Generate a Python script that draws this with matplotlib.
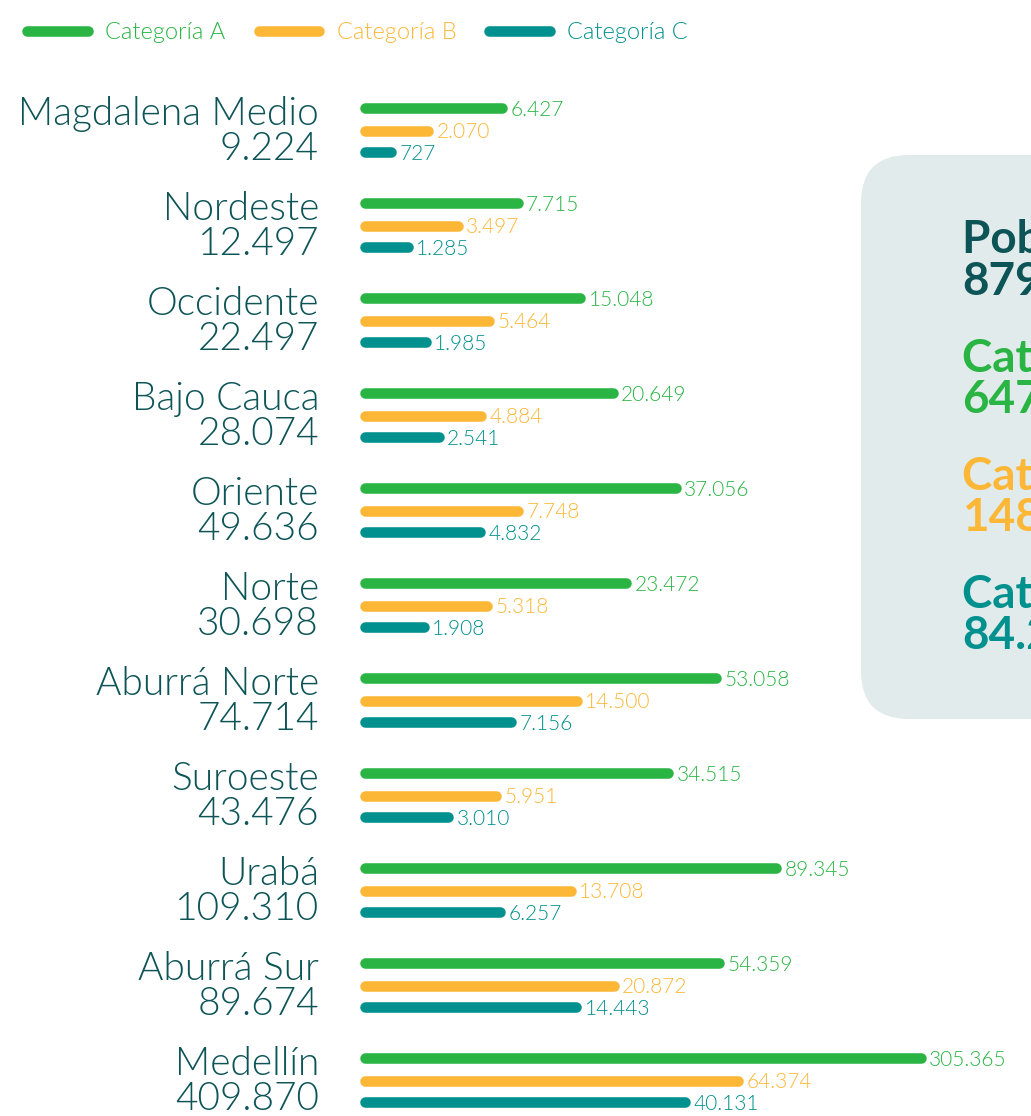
import numpy as np
import matplotlib
matplotlib.use("Agg")
import matplotlib.pyplot as plt
import matplotlib.transforms as mtransforms
from matplotlib.lines import Line2D
from matplotlib.patches import FancyBboxPatch

# data
regions = ["Magdalena Medio", "Nordeste", "Occidente", "Bajo Cauca", "Oriente", "Norte",
           "Aburrá Norte", "Suroeste", "Urabá", "Aburrá Sur", "Medellín"]
cat_a = [6427, 7715, 15048, 20649, 37056, 23472, 53058, 34515, 89345, 54359, 305365]
cat_b = [2070, 3497, 5464, 4884, 7748, 5318, 14500, 5951, 13708, 20872, 64374]
cat_c = [727, 1285, 1985, 2541, 4832, 1908, 7156, 3010, 6257, 14443, 40131]
series_names = ["Categoría A", "Categoría B", "Categoría C"]
panel_title = "Población total"

GREEN = "#29B443"
ORANGE = "#FDB736"
TEAL = "#00908D"
DARK = "#0D5457"
PANEL = "#E1EBEB"
colors = [GREEN, ORANGE, TEAL]

plt.rcParams["font.family"] = ["Lato", "DejaVu Sans"]
LIGHT = 300


def fmt(v):
    return f"{v:,}".replace(",", ".")


# compressed scale for bar lengths
S = 3000.0


def fwd(v):
    return np.log1p(np.maximum(v, 0) / S)


def inv(x):
    return S * np.expm1(x)


W, H = 1031, 1116
fig = plt.figure(figsize=(W / 100, H / 100), dpi=100)

# background layer in pixel coords
bg = fig.add_axes([0, 0, 1, 1])
bg.set_xlim(0, W)
bg.set_ylim(H, 0)
bg.axis("off")

panel = FancyBboxPatch((861, 155), 400, 564,
                       boxstyle="round,pad=0,rounding_size=48",
                       facecolor=PANEL, edgecolor="none")
bg.add_patch(panel)

totals = [sum(cat_a) + sum(cat_b) + sum(cat_c), sum(cat_a), sum(cat_b), sum(cat_c)]
heads = [panel_title] + series_names
head_colors = [DARK] + colors
for k, (h, t, c) in enumerate(zip(heads, totals, head_colors)):
    y0 = 253 + k * 118
    bg.text(962, y0, h, color=c, fontsize=33, fontweight="bold", va="baseline")
    bg.text(962, y0 + 42, fmt(t), color=c, fontsize=33, fontweight="bold", va="baseline")

# bars
left = 365
ax = fig.add_axes([left / W, 0, (W - left) / W, 1])
ax.patch.set_alpha(0)
ax.set_xscale("function", functions=(fwd, inv))
ax.set_xlim(0, inv((W - left) / 120.0))
step = 95.0
ax.set_ylim((H - 131) / step, -131 / step)
ax.axis("off")

n = len(regions)
y = np.arange(n)
offsets = [-0.24, 0.0, 0.225]
for vals, c, off in zip([cat_a, cat_b, cat_c], colors, offsets):
    for yi, v in zip(y, vals):
        ax.plot([0, v], [yi + off, yi + off], color=c, lw=7.6,
                solid_capstyle="round", clip_on=False)
        ax.annotate(fmt(v), (v, yi + off), xytext=(6, -1), textcoords="offset points",
                    va="center", ha="left", color=c, fontsize=15, fontweight=LIGHT)

# region names and totals
trans = mtransforms.blended_transform_factory(bg.transData, ax.transData)
for yi, name, a, b, c in zip(y, regions, cat_a, cat_b, cat_c):
    ax.text(319, yi - 0.063, name, transform=trans, ha="right", va="baseline",
            color=DARK, fontsize=28, fontweight=LIGHT)
    ax.text(319, yi + 0.305, fmt(a + b + c), transform=trans, ha="right", va="baseline",
            color=DARK, fontsize=28, fontweight=LIGHT)

# legend
handles = [Line2D([], [], color=c, lw=7.6, solid_capstyle="round") for c in colors]
fig.legend(handles, series_names, loc="upper left", bbox_to_anchor=(18 / W, 1 - 13 / H),
           ncol=3, frameon=False, labelcolor="linecolor",
           handlelength=2.55, handletextpad=0.75, columnspacing=1.4, borderaxespad=0,
           prop={"weight": LIGHT, "size": 17})

fig.savefig("out.png", dpi=100)
